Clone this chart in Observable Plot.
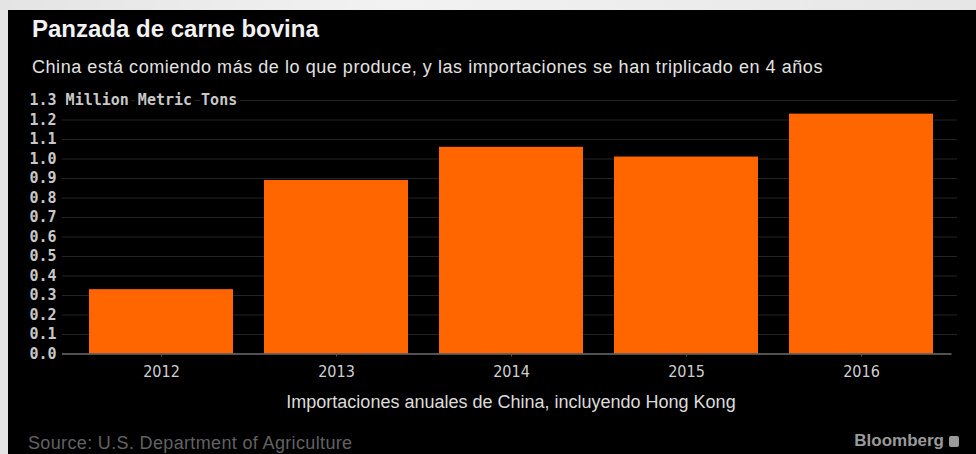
<!DOCTYPE html>
<html>
<head>
<meta charset="utf-8">
<script src="https://cdn.jsdelivr.net/npm/d3@7"></script>
<script src="https://cdn.jsdelivr.net/npm/@observablehq/plot@0.6"></script>
<style>
  html, body { margin: 0; padding: 0; }
  body { width: 976px; height: 454px; overflow: hidden; position: relative;
         background: linear-gradient(90deg, #e4e4e4, #f2f2f2 40%, #e6e6e6); }
  #panel { position: absolute; left: 8px; top: 10px; width: 968px; height: 444px; background: #000; }
  .t { position: absolute; line-height: 1; white-space: nowrap; }
  #title { left: 32px; top: 14.7px; font: bold 24px "Liberation Sans", Arial, sans-serif; color: #f2f2f2; }
  #subtitle { left: 32px; top: 56.5px; font: 18px "Liberation Sans", Arial, sans-serif; letter-spacing: 0.55px; color: #e2e2e2; }
  #xtitle { left: 71.5px; width: 879px; text-align: center; top: 391.8px; font: 18px "Liberation Sans", Arial, sans-serif; color: #dcdcdc; }
  #source { left: 28px; top: 433px; font: 18px "Liberation Sans", Arial, sans-serif; letter-spacing: 0.35px; color: #626262; }
  #brand { right: 17px; top: 431px; font: bold 17px "Liberation Sans", Arial, sans-serif; color: #9a9a9a; display: flex; align-items: center; gap: 5px; }
  #brand .ico { display: inline-block; width: 10px; height: 11px; background: #9a9a9a; border-radius: 2px; }
  #chart { position: absolute; left: 8px; top: 90px; }
</style>
</head>
<body>
<div id="panel"></div>
<div class="t" id="title">Panzada de carne bovina</div>
<div class="t" id="subtitle">China está comiendo más de lo que produce, y las importaciones se han triplicado en 4 años</div>
<div id="chart"></div>
<div class="t" id="xtitle">Importaciones anuales de China, incluyendo Hong Kong</div>
<div class="t" id="source">Source: U.S. Department of Agriculture</div>
<div class="t" id="brand"><span>Bloomberg</span><span class="ico"></span></div>
<script>
const years = ["2012", "2013", "2014", "2015", "2016"];
const imports = [0.33, 0.89, 1.06, 1.01, 1.23];
const yTicks = [0, 0.1, 0.2, 0.3, 0.4, 0.5, 0.6, 0.7, 0.8, 0.9, 1.0, 1.1, 1.2, 1.3];
const yUnit = "Million Metric Tons";

const data = years.map((year, i) => ({year, value: imports[i]}));
const fmt = d => d === 1.3 ? `${d.toFixed(1)} ${yUnit}` : d.toFixed(1);

const chart = Plot.plot({
  width: 968,
  height: 300,
  marginLeft: 63.5,
  marginRight: 25.5,
  marginTop: 10,
  marginBottom: 36.5,
  style: { background: "transparent", overflow: "visible" },
  x: { domain: years, paddingInner: 0.18, paddingOuter: 0.09, axis: null },
  y: { domain: [0, 1.3], axis: null },
  marks: [
    Plot.ruleY(yTicks.filter(d => d > 0), { stroke: "#242424", strokeWidth: 1, insetLeft: -9.5, insetRight: -6.5 }),
    Plot.barY(data, { x: "year", y: "value", fill: "#ff6600" }),
    Plot.ruleY([0], { stroke: "#6e6e6e", strokeWidth: 1.5, insetLeft: -9.5, insetRight: -1 }),
    Plot.axisX({ tickSize: 3, tickPadding: 9, stroke: "#555", fill: "#cfcfcf",
                 fontSize: 16, fontFamily: "'Liberation Sans Narrow', 'DejaVu Sans Condensed', 'Liberation Sans', sans-serif",
                 label: null }),
    Plot.text(yTicks, { y: d => d, text: fmt, frameAnchor: "left", textAnchor: "start", dx: -42.5,
                        fill: "#c8c8c8", stroke: "#000", strokeWidth: 8, paintOrder: "stroke",
                        fontSize: 15, fontWeight: "bold", fontFamily: "'DejaVu Sans Mono', monospace" })
  ]
});
document.getElementById("chart").appendChild(chart);
</script>
</body>
</html>
